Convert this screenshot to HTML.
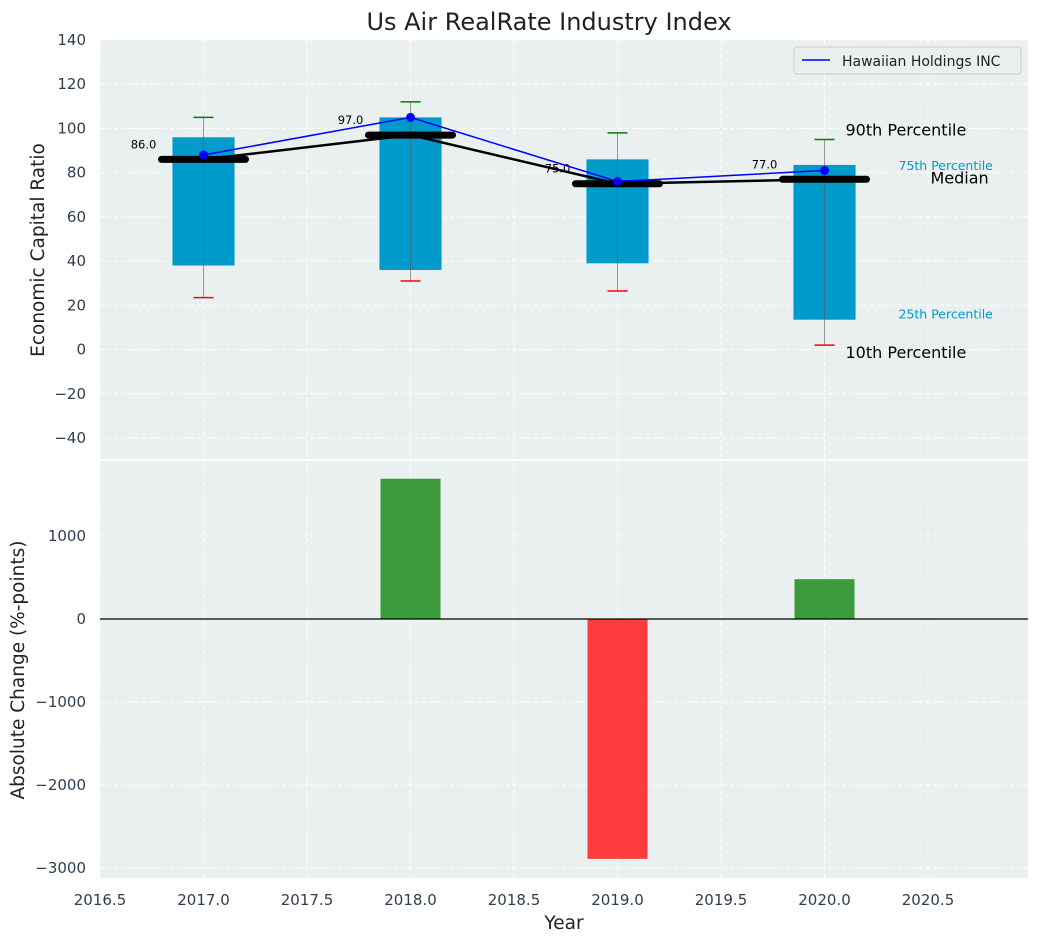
<!DOCTYPE html>
<html><head><meta charset="utf-8"><style>
body{margin:0;background:#fff;font-family:"Liberation Sans","DejaVu Sans",sans-serif;}
svg text{font-family:"DejaVu Sans","Liberation Sans",sans-serif;}
</style></head><body>
<svg id="c" width="1039" height="942" xmlns="http://www.w3.org/2000/svg"></svg>
<script>
const years=[2017,2018,2019,2020];
const p10=[23.5,31,26.5,2];
const p25=[38,36,39,13.5];
const p75=[96,105,86,83.5];
const p90=[105,112,98,95];
const medians=[86,97,75,77];
const company=[88,105,76,81];
const changes=[0,1690,-2890,480];
const xTicks=[2016.5,2017,2017.5,2018,2018.5,2019,2019.5,2020,2020.5];
const yTicksTop=[-40,-20,0,20,40,60,80,100,120,140];
const yTicksBot=[-3000,-2000,-1000,0,1000];

const svg=document.getElementById('c');const NS='http://www.w3.org/2000/svg';
function el(t,a,txt){const e=document.createElementNS(NS,t);for(const k in a)e.setAttribute(k,a[k]);if(txt!==undefined)e.textContent=txt;svg.appendChild(e);return e;}
const L=100,R=1028;
const x=v=>L+(v-2016.5)*207;
const T={t:40,b:459}; const yT=v=>40+(140-v)*(398/180);
const B={t:461,b:878}; const yB=v=>619-v*0.083;

let e;
e=el('rect',{x:L,y:T.t,width:R-L,height:T.b-T.t,fill:'#eaeff0'});

e=el('rect',{x:L,y:B.t,width:R-L,height:B.b-B.t,fill:'#eaeff0'});

xTicks.forEach(v=>{[[T.t,T.b],[B.t,B.b]].forEach(r=>{e=el('line',{x1:x(v),x2:x(v),y1:r[0],y2:r[1],stroke:'#fff','stroke-dasharray':'4,3','stroke-width':1});});});
yTicksTop.forEach(v=>{e=el('line',{x1:L,x2:R,y1:yT(v),y2:yT(v),stroke:'#fff','stroke-dasharray':'4,3'});
e=el('text',{x:L-14,y:yT(v)+5,'text-anchor':'end','font-size':15,fill:'#2e3e50'},v<0?'\u2212'+(-v):v);});
yTicksBot.forEach(v=>{e=el('line',{x1:L,x2:R,y1:yB(v),y2:yB(v),stroke:'#fff','stroke-dasharray':'4,3'});
e=el('text',{x:L-14,y:yB(v)+5,'text-anchor':'end','font-size':15,fill:'#2e3e50'},v<0?'\u2212'+(-v):v);});
xTicks.forEach(v=>{e=el('text',{x:x(v),y:905,'text-anchor':'middle','font-size':15,fill:'#2e3e50'},v.toFixed(1));});

const bw=0.3*207;
years.forEach((yr,i)=>{
 const cx=x(yr);
 e=el('rect',{x:cx-bw/2,y:yT(p75[i]),width:bw,height:yT(p25[i])-yT(p75[i]),fill:'#009bcb'});
 e=el('line',{x1:cx,x2:cx,y1:yT(p90[i]),y2:yT(p10[i]),stroke:'#555','stroke-opacity':0.6,'stroke-width':1});
 e=el('line',{x1:cx-10,x2:cx+10,y1:yT(p90[i]),y2:yT(p90[i]),stroke:'green','stroke-width':1.5});
 e=el('line',{x1:cx-10,x2:cx+10,y1:yT(p10[i]),y2:yT(p10[i]),stroke:'red','stroke-width':1.5});
});
e=el('polyline',{points:years.map((yr,i)=>x(yr)+','+yT(medians[i])).join(' '),fill:'none',stroke:'#000','stroke-width':2.5});
years.forEach((yr,i)=>{const cx=x(yr);
 e=el('line',{x1:cx-42,x2:cx+42,y1:yT(medians[i]),y2:yT(medians[i]),stroke:'#000','stroke-width':7,'stroke-linecap':'round'});
 e=el('text',{x:cx-60,y:yT(medians[i])-11,'text-anchor':'middle','font-size':11.5,fill:'#000'},medians[i].toFixed(1));
});
e=el('polyline',{points:years.map((yr,i)=>x(yr)+','+yT(company[i])).join(' '),fill:'none',stroke:'blue','stroke-width':1.5});
years.forEach((yr,i)=>{e=el('circle',{cx:x(yr),cy:yT(company[i]),r:4.5,fill:'blue'});});
const li=3,lx=x(years[li]);
[['90th Percentile',lx+21,yT(p90[li])-4,16,'#000'],['75th Percentile',lx+74,yT(p75[li])+5,12.5,'#009bcb'],['Median',lx+106,yT(medians[li])+4,16,'#000'],['25th Percentile',lx+74,yT(p25[li])-1,12.5,'#009bcb'],['10th Percentile',lx+21,yT(p10[li])+13,16,'#000']].forEach(a=>{
 e=el('text',{x:a[1],y:a[2],'font-size':a[3],fill:a[4]},a[0]);});
e=el('rect',{x:794,y:47,width:227,height:27,rx:3,fill:'#eaeff0',stroke:'#ccc'});
e=el('line',{x1:802,x2:830,y1:60,y2:60,stroke:'blue','stroke-width':1.5});
e=el('text',{x:842,y:66,'font-size':14,fill:'#222'},'Hawaiian Holdings INC');

const bw2=0.29*207;
years.forEach((yr,i)=>{const v=changes[i];if(!v)return;
 e=el('rect',{x:x(yr)-bw2/2,y:Math.min(yB(v),yB(0)),width:bw2,height:Math.abs(yB(v)-yB(0)),fill:v>0?'#3c9c3c':'#fd3d3d'});});
e=el('line',{x1:L,x2:R,y1:yB(0),y2:yB(0),stroke:'#000','stroke-width':1.2});

e=el('text',{x:549,y:30,'text-anchor':'middle','font-size':24,fill:'#222'},'Us Air RealRate Industry Index');
e=el('text',{x:44,y:250,'text-anchor':'middle','font-size':18.5,fill:'#222',transform:'rotate(-90 44 250)'},'Economic Capital Ratio');
e=el('text',{x:24,y:670,'text-anchor':'middle','font-size':18.5,fill:'#222',transform:'rotate(-90 24 670)'},'Absolute Change (%-points)');
e=el('text',{x:564,y:929,'text-anchor':'middle','font-size':18.5,fill:'#222'},'Year');
</script>
</body></html>
